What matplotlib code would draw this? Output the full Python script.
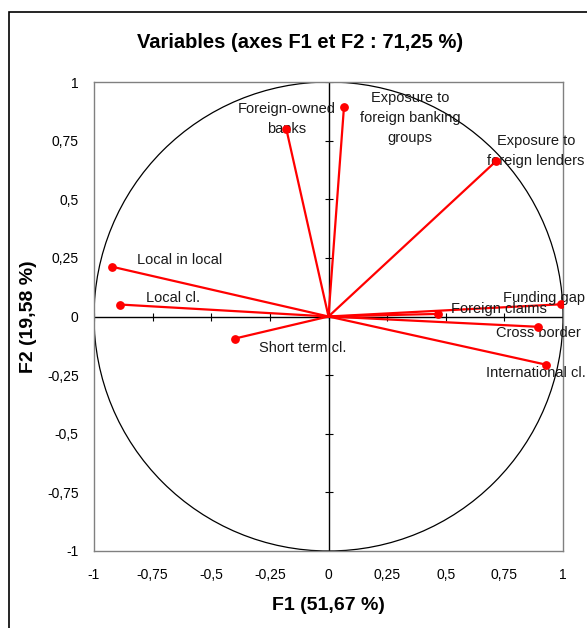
import numpy as np
import matplotlib
matplotlib.use("Agg")
import matplotlib.pyplot as plt
from matplotlib.patches import Circle, Rectangle
from matplotlib.ticker import FuncFormatter

plt.rcParams['font.family'] = ['Liberation Sans', 'DejaVu Sans']

variables = ["Foreign-owned\nbanks", "Exposure to\nforeign banking\ngroups",
             "Exposure to\nforeign lenders", "Local in local", "Local cl.",
             "Short term cl.", "Funding gap", "Foreign claims", "Cross border",
             "International cl."]
f1 = [-0.18, 0.066, 0.714, -0.922, -0.888, -0.399, 0.99, 0.468, 0.895, 0.926]
f2 = [0.80, 0.894, 0.662, 0.212, 0.051, -0.094, 0.052, 0.011, -0.044, -0.205]
# label anchor positions (data units) and alignment
label_pos = [(-0.18, 0.842, 'center'), (0.348, 0.845, 'center'), (0.885, 0.706, 'center'),
             (-0.817, 0.243, 'left'), (-0.778, 0.081, 'left'), (-0.296, -0.136, 'left'),
             (0.744, 0.081, 'left'), (0.522, 0.030, 'left'), (0.714, -0.072, 'left'),
             (0.672, -0.239, 'left')]
ticks = [-1, -0.75, -0.5, -0.25, 0, 0.25, 0.5, 0.75, 1]

fig = plt.figure(figsize=(5.87, 6.28), dpi=100)
ax = fig.add_axes([94/587, 1-551/628, 469/587, 469/628])
ax.set_xlim(-1, 1)
ax.set_ylim(-1, 1)

for s in ax.spines.values():
    s.set_color('#808080')
    s.set_linewidth(1.0)

ax.add_patch(Circle((0, 0), 1, fill=False, color='black', lw=0.9))
ax.axhline(0, color='black', lw=1.0, zorder=1)
ax.axvline(0, color='black', lw=1.0, zorder=1)
ax.plot(ticks, [0]*len(ticks), ls='none', marker='|', color='black', ms=6, mew=0.8)
ax.plot([0]*len(ticks), ticks, ls='none', marker='_', color='black', ms=6, mew=0.8)

for x, y in zip(f1, f2):
    ax.plot([0, x], [0, y], color='#ff0000', lw=1.6, zorder=3)
ax.scatter(f1, f2, color='#ff0000', s=28, zorder=4)

for name, (lx, ly, ha) in zip(variables, label_pos):
    ax.text(lx, ly, name, ha=ha, va='center', fontsize=10.5, color='#1a1a1a',
            linespacing=1.55, zorder=3.5)

fmt = FuncFormatter(lambda v, p: ('%g' % v).replace('.', ','))
ax.set_xticks(ticks)
ax.set_yticks(ticks)
ax.xaxis.set_major_formatter(fmt)
ax.yaxis.set_major_formatter(fmt)
ax.tick_params(axis='x', length=0, labelsize=10, pad=12)
ax.tick_params(axis='y', length=0, labelsize=10, pad=11)

ax.set_xlabel('F1 (51,67 %)', fontsize=14, fontweight='bold', labelpad=11)
ax.set_ylabel('F2 (19,58 %)', fontsize=14, fontweight='bold', labelpad=7)
fig.text(0.511, 1-43/628, 'Variables (axes F1 et F2 : 71,25 %)', ha='center', va='center',
         fontsize=14.5, fontweight='bold')

fig.patches.append(Rectangle((9/587, -0.01), 1, 1-11.7/628+0.01, transform=fig.transFigure,
                             fill=False, ec='black', lw=1.2))

fig.savefig('out.png', dpi=100)
